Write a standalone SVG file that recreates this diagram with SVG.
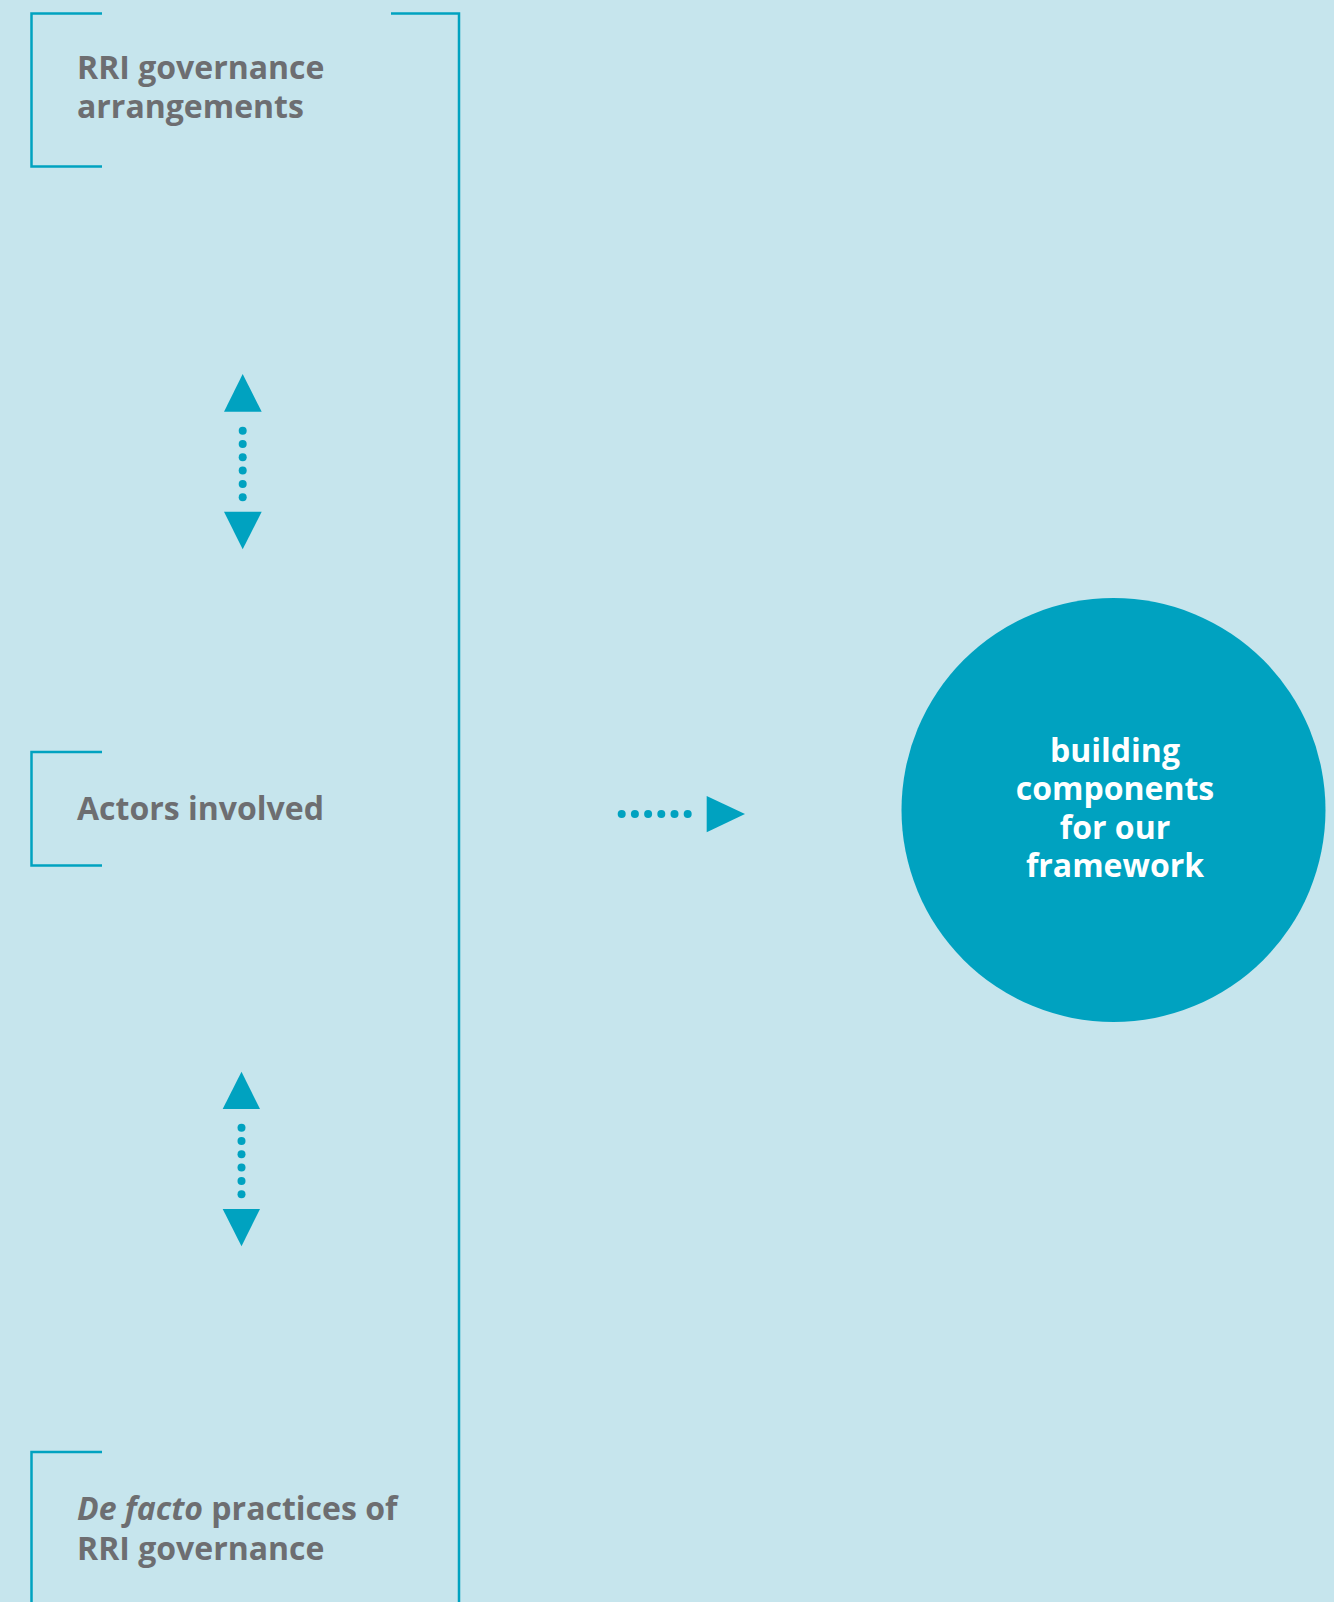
<svg xmlns="http://www.w3.org/2000/svg" width="1334" height="1602" viewBox="0 0 1334 1602">
<defs>
<style>
.bracket{fill:none;stroke:#00a2c0;stroke-width:2.5}
.lbl{font-family:"Open Sans","Liberation Sans",sans-serif;font-weight:700;font-size:32px;fill:#6d6e71}
.ctext{font-family:"Open Sans","Liberation Sans",sans-serif;font-weight:700;font-size:32px;fill:#ffffff;text-anchor:middle}
.tri{fill:#00a2c0}
.dot{fill:#00a2c0}
</style>
</defs>
<rect x="0" y="0" width="1334" height="1602" fill="#c6e5ed"/>
<g id="outer-bracket">
<path class="bracket" d="M391,13.5 H459 V1602"/>
</g>
<g id="node-rri-governance">
<path class="bracket" d="M102,13.5 H31.5 V166.5 H102"/>
<text class="lbl" x="77" y="79">RRI governance</text>
<text class="lbl" x="77" y="118">arrangements</text>
</g>
<g id="node-actors">
<path class="bracket" d="M102,752 H31.5 V865.5 H102"/>
<text class="lbl" x="77" y="820">Actors involved</text>
</g>
<g id="node-de-facto">
<path class="bracket" d="M102,1452 H31.5 V1602"/>
<text class="lbl" x="77" y="1520"><tspan font-style="italic">De facto</tspan> practices of</text>
<text class="lbl" x="77" y="1560">RRI governance</text>
</g>
<g id="node-framework">
<circle cx="1113.5" cy="810" r="212" fill="#00a2c0"/>
<text class="ctext" x="1115" y="762">building</text>
<text class="ctext" x="1115" y="800">components</text>
<text class="ctext" x="1115" y="838.5">for our</text>
<text class="ctext" x="1115" y="877">framework</text>
</g>
<g id="connectors">
<g id="conn-1">
<polygon class="tri" points="242.7,374 261.7,411.7 224,411.7"/>
<circle class="dot" cx="242.7" cy="430.7" r="4"/>
<circle class="dot" cx="242.7" cy="444" r="4"/>
<circle class="dot" cx="242.7" cy="457.3" r="4"/>
<circle class="dot" cx="242.7" cy="470.6" r="4"/>
<circle class="dot" cx="242.7" cy="483.9" r="4"/>
<circle class="dot" cx="242.7" cy="497.2" r="4"/>
<polygon class="tri" points="224,511.7 261.7,511.7 242.7,549.3"/>
</g>
<g id="conn-2">
<polygon class="tri" points="241.5,1071.7 260,1109 222.7,1109"/>
<circle class="dot" cx="241.5" cy="1127.7" r="4"/>
<circle class="dot" cx="241.5" cy="1141" r="4"/>
<circle class="dot" cx="241.5" cy="1154.3" r="4"/>
<circle class="dot" cx="241.5" cy="1167.6" r="4"/>
<circle class="dot" cx="241.5" cy="1180.9" r="4"/>
<circle class="dot" cx="241.5" cy="1194.2" r="4"/>
<polygon class="tri" points="222.7,1209 260,1209 241.5,1246.3"/>
</g>
<g id="conn-3">
<circle class="dot" cx="621.7" cy="814" r="4"/>
<circle class="dot" cx="634.9" cy="814" r="4"/>
<circle class="dot" cx="648.1" cy="814" r="4"/>
<circle class="dot" cx="661.3" cy="814" r="4"/>
<circle class="dot" cx="674.5" cy="814" r="4"/>
<circle class="dot" cx="687.7" cy="814" r="4"/>
<polygon class="tri" points="706.7,796 745,814 706.7,832.3"/>
</g>
</g>
</svg>
